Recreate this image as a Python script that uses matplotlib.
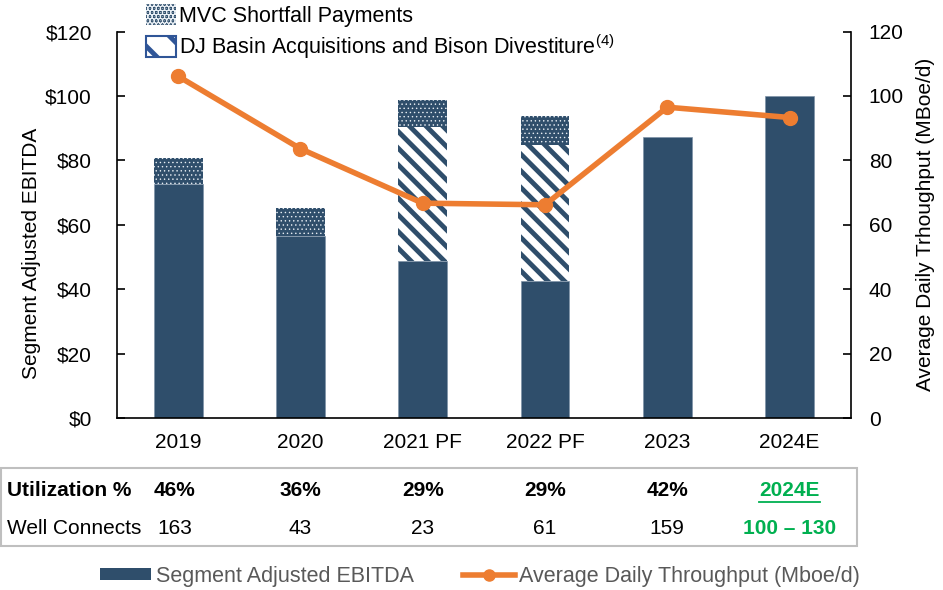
import matplotlib
matplotlib.use("Agg")
import matplotlib.pyplot as plt
from matplotlib.patches import Patch, Rectangle
from matplotlib.lines import Line2D
import numpy as np

years = ["2019", "2020", "2021 PF", "2022 PF", "2023", "2024E"]
ebitda_base = [72.6, 56.6, 48.9, 42.6, 87.2, 100.0]
dj_basin = [0, 0, 41.5, 42.3, 0, 0]
mvc = [8.1, 8.7, 8.4, 8.9, 0, 0]
throughput = [106.1, 83.6, 66.7, 66.2, 96.5, 93.3]

utilization = ["46%", "36%", "29%", "29%", "42%", "2024E"]
well_connects = ["163", "43", "23", "61", "159", "100 \u2013 130"]

navy = "#2F4E6B"
orange = "#ED7D31"
green = "#00B050"

plt.rcParams["font.family"] = ["Liberation Sans", "DejaVu Sans"]
plt.rcParams["font.size"] = 15
plt.rcParams["mathtext.fontset"] = "custom"
plt.rcParams["mathtext.rm"] = "Liberation Sans"

fig = plt.figure(figsize=(9.43, 5.9), dpi=100)
ax = fig.add_axes([0.1241, 0.2915, 0.7780, 0.6551])

x = np.arange(len(years))
w = 0.4
dj_bottom = np.array(ebitda_base)
mvc_bottom = dj_bottom + np.array(dj_basin)

ax.bar(x, ebitda_base, w, color=navy, edgecolor="#7F93A8", linewidth=0.5, zorder=2)

plt.rcParams["hatch.linewidth"] = 3.5
dj = ax.bar(x, dj_basin, w, bottom=dj_bottom, facecolor="white", edgecolor=navy,
            hatch="\\\\", linewidth=0, zorder=2)
for p in dj:
    if hasattr(p, "set_hatch_linewidth"):
        p.set_hatch_linewidth(3.5)

plt.rcParams["hatch.linewidth"] = 0.5
mv = ax.bar(x, mvc, w, bottom=mvc_bottom, facecolor=navy, edgecolor="#E8EEF4",
            hatch="....", linewidth=0, zorder=2)
for p in mv:
    if hasattr(p, "set_hatch_linewidth"):
        p.set_hatch_linewidth(0.5)

ax.set_xlim(-0.5, len(years) - 0.5)
ax.set_ylim(0, 120)
ax.set_yticks(range(0, 121, 20))
ax.set_yticklabels([f"${v}" for v in range(0, 121, 20)])
ax.set_xticks(x)
ax.set_xticklabels(years)
ax.tick_params(axis="y", direction="in", length=6, width=1.2, pad=18)
ax.tick_params(axis="x", length=0, pad=11)
ax.spines["top"].set_visible(False)
ax.spines["right"].set_visible(False)
for s in ["left", "bottom"]:
    ax.spines[s].set_linewidth(1.2)
ax.set_ylabel("Segment Adjusted EBITDA")
ax.yaxis.set_label_coords(-0.104, 0.425)

ax2 = ax.twinx()
ax2.plot(x, throughput, color=orange, linewidth=4, marker="o", markersize=10, zorder=3)
ax2.set_ylim(0, 120)
ax2.set_yticks(range(0, 121, 20))
ax2.tick_params(axis="y", direction="in", length=6, width=1.2, pad=13)
for s in ["top", "left", "bottom"]:
    ax2.spines[s].set_visible(False)
ax2.spines["right"].set_linewidth(1.2)
ax2.set_ylabel("Average Daily Trhoughput (MBoe/d)", labelpad=9)

# top legend
plt.rcParams["hatch.linewidth"] = 3.5
h_mvc = Patch(facecolor=navy, edgecolor="#E8EEF4", hatch="....", linewidth=0)
if hasattr(h_mvc, "set_hatch_linewidth"):
    h_mvc.set_hatch_linewidth(0.5)
h_dj = Patch(facecolor="white", edgecolor="#2F5597", hatch="\\", linewidth=1.5)
if hasattr(h_dj, "set_hatch_linewidth"):
    h_dj.set_hatch_linewidth(3.5)
fig.legend([h_mvc, h_dj],
           ["MVC Shortfall Payments",
            "DJ Basin Acquisitions and Bison Divestiture$^{\\rm (4)}$"],
           loc="upper left", bbox_to_anchor=(146 / 943, 1 - 4 / 590),
           frameon=False, borderpad=0, borderaxespad=0,
           handlelength=1.4, handleheight=1.1, handletextpad=0.15,
           labelspacing=0.25, fontsize=15.5)

# table
fig.patches.append(Rectangle((1 / 943, 1 - 546 / 590), 856 / 943, 78 / 590,
                             transform=fig.transFigure, fill=False,
                             edgecolor="#BFBFBF", linewidth=1.5))
tr = matplotlib.transforms.blended_transform_factory(ax.transData, fig.transFigure)
y1 = 1 - 491 / 590
y2 = 1 - 529 / 590
fig.text(7 / 943, y1, "Utilization %", fontweight="bold", va="center")
fig.text(7 / 943, y2, "Well Connects", va="center")
labels = []
for i, (u, wc) in enumerate(zip(utilization, well_connects)):
    last = i == len(years) - 1
    col = green if last else "black"
    xi = x[i] - 0.03 if i == 0 else x[i]
    t = fig.text(xi, y1, u, transform=tr, ha="center", va="center",
                 fontweight="bold", color=col)
    labels.append(t)
    fig.text(xi, y2, wc, transform=tr, ha="center", va="center",
             fontweight="bold" if last else "normal", color=col)

fig.canvas.draw()
bb = labels[-1].get_window_extent()
fig.add_artist(Line2D([bb.x0 / 943, bb.x1 / 943], [1 - 502 / 590, 1 - 502 / 590],
                      transform=fig.transFigure, color=green, linewidth=1.3))

# bottom legend
h_bar = Patch(facecolor=navy)
h_line = Line2D([], [], color=orange, linewidth=4, marker="o", markersize=8)
leg = fig.legend([h_bar, h_line],
                 ["Segment Adjusted EBITDA", "Average Daily Throughput (Mboe/d)"],
                 loc="center", bbox_to_anchor=(480 / 943, 1 - 576.5 / 590),
                 ncol=2, frameon=False, borderpad=0, handlelength=2.4,
                 handleheight=0.5, handletextpad=0.2, columnspacing=2.3,
                 fontsize=15.5)
for t in leg.get_texts():
    t.set_color("#595959")

fig.savefig("out.png", dpi=100)
